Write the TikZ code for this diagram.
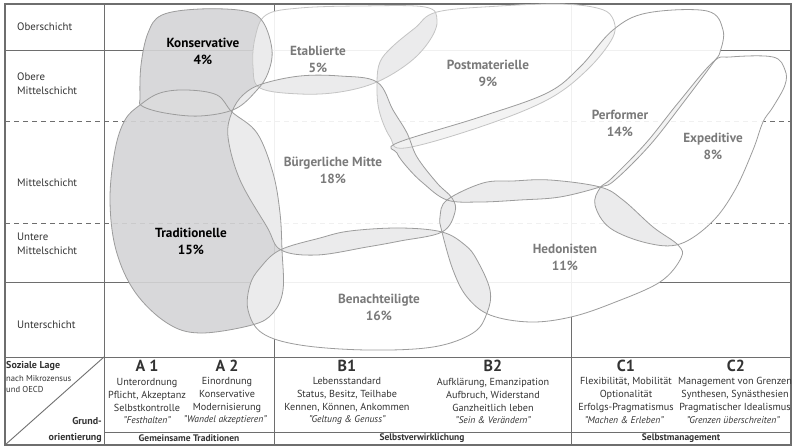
\documentclass[tikz,border=0pt]{standalone}
\usepackage{fontspec}
\setmainfont{PT Sans}
\definecolor{frame}{HTML}{6E6E6E}
\definecolor{txt}{HTML}{333333}
\definecolor{lbl}{HTML}{7A7A7A}
\definecolor{bline}{HTML}{9C9C9C}
\definecolor{bline2}{HTML}{C4C4C4}
\definecolor{dfill}{HTML}{D4D4D6}
\definecolor{ovl}{HTML}{EAEAEB}
\definecolor{ovlb}{HTML}{F2F2F2}
\definecolor{ovld}{HTML}{DCDCDD}
\def\Kp{plot[smooth cycle,tension=0.6] coordinates{(140,97) (141,65) (148,33) (162,15) (200,9) (245,11) (263,22) (272,50) (268,73) (257,90) (235,109) (200,116) (165,113) (142,106)}}
\def\Ep{plot[smooth cycle,tension=0.6] coordinates{(260,88) (253,67) (255,38) (266,15) (300,8) (360,6) (425,7) (437,20) (430,40) (410,62) (377,82) (340,92) (300,94)}}
\def\Pp{plot[smooth cycle,tension=0.6] coordinates{(437,12) (415,28) (392,47) (380,62) (377,82) (379,110) (390,137) (405,148) (480,127) (547,100) (587,70) (613,37) (612,17) (597,8) (560,4) (500,6)}}
\def\Pfp{plot[smooth cycle,tension=0.6] coordinates{(397,143) (480,117) (547,93) (580,67) (613,30) (647,13) (707,11) (723,30) (720,52) (713,63) (683,103) (650,145) (615,180) (600,187) (560,197) (520,200) (480,202) (447,200) (423,183) (407,167) (397,153)}}
\def\Xp{plot[smooth cycle,tension=0.6] coordinates{(713,62) (730,57) (773,57) (785,70) (785,85) (773,107) (763,122) (753,150) (735,190) (712,222) (680,244) (647,243) (610,228) (595,205) (600,188) (612,178) (646,143) (678,103)}}
\def\Hp{plot[smooth cycle,tension=0.6] coordinates{(447,200) (483,183) (513,181) (550,180) (600,187) (623,200) (653,227) (678,245) (681,258) (660,282) (613,303) (571,317) (530,322) (490,315) (467,297) (453,270) (442,232) (440,217)}}
\def\Bnp{plot[smooth cycle,tension=0.6] coordinates{(280,250) (320,238) (350,231) (400,228) (442,232) (465,245) (477,260) (490,290) (487,313) (473,333) (433,347) (367,350) (300,345) (262,333) (248,310) (250,285) (260,268)}}
\def\Bp{plot[smooth cycle,tension=0.6] coordinates{(232,112) (243,95) (262,84) (300,76) (340,76) (377,82) (393,110) (407,133) (417,157) (437,183) (452,198) (455,212) (442,232) (400,241) (367,247) (317,255) (281,250) (267,227) (240,180) (228,137)}}
\def\Tp{plot[smooth cycle,tension=0.6] coordinates{(140,105) (160,93) (187,90) (217,95) (232,112) (257,133) (273,173) (280,213) (282,250) (283,290) (273,313) (252,325) (200,333) (167,323) (135,292) (116,250) (110,200) (115,150) (125,120)}}
\newcommand\ovlap[3]{\begin{scope}\clip #1; \fill[#3,opacity=0.92] #2;\end{scope}}
\begin{document}
\begin{tikzpicture}[x=1pt,y=-1pt,
  gridline/.style={draw=frame,line width=0.9pt},
  dashline/.style={draw=frame,line width=0.8pt,dash pattern=on 5pt off 4pt},
  wblob/.style={fill=white,fill opacity=0.9},
  gblob/.style={fill=dfill,fill opacity=0.9},
  outl/.style={draw=bline,line width=0.8pt},
  outl2/.style={draw=bline2,line width=0.8pt},
  mil/.style={align=center,text=lbl,font=\bfseries\fontsize{13.2}{17}\selectfont,inner sep=0pt},
  mild/.style={mil,text=black},
  side/.style={anchor=west,align=left,text=txt,font=\fontsize{10.8}{14}\selectfont,inner sep=0pt},
  colhead/.style={text=txt,font=\bfseries\fontsize{16}{16}\selectfont,inner sep=0pt},
  colbody/.style={align=center,text=txt,font=\fontsize{10.2}{13}\selectfont,inner sep=0pt},
  colquote/.style={text=txt,font=\itshape\fontsize{9.6}{10}\selectfont,inner sep=0pt},
  grp/.style={text=txt,font=\bfseries\fontsize{9.5}{10}\selectfont,inner sep=0pt}
]
\useasboundingbox (0,0) rectangle (793,447);
\fill[white] (0,0) rectangle (793,447);
% grid
\draw[gridline] (5,50) -- (791,50);
\draw[gridline] (5,282) -- (791,282);
\draw[dashline] (5,121) -- (791,121);
\draw[dashline] (5,223) -- (791,223);
\draw[gridline] (274,4) -- (274,445);
\draw[gridline] (571,4) -- (571,445);
\draw[gridline] (104,4) -- (104,445);
\draw[gridline] (5,357) -- (791,357);
\draw[gridline] (104,432) -- (791,432);
\draw[gridline] (5,445) -- (104,357);
\draw[frame,line width=1.3pt] (5,4) rectangle (791,445);
% blob fills
\path[gblob] \Kp;
\path[gblob] \Tp;
\path[wblob] \Ep;
\path[wblob] \Pp;
\path[wblob] \Pfp;
\path[wblob] \Xp;
\path[wblob] \Bp;
\path[wblob] \Bnp;
\path[wblob] \Hp;
% overlaps
\ovlap{\Kp}{\Tp}{ovld}
\ovlap{\Kp}{\Ep}{ovl}
\ovlap{\Kp}{\Bp}{ovl}
\ovlap{\Ep}{\Bp}{ovl}
\ovlap{\Ep}{\Pp}{ovl}
\ovlap{\Tp}{\Bp}{ovl}
\ovlap{\Tp}{\Bnp}{ovl}
\ovlap{\Bp}{\Bnp}{ovl}
\ovlap{\Bp}{\Pp}{ovl}
\ovlap{\Bp}{\Pfp}{ovl}
\ovlap{\Bp}{\Hp}{ovl}
\ovlap{\Pp}{\Pfp}{ovlb}
\ovlap{\Pfp}{\Hp}{ovl}
\ovlap{\Pfp}{\Xp}{ovlb}
\ovlap{\Hp}{\Xp}{ovl}
\ovlap{\Hp}{\Bnp}{ovl}
% outlines
\draw[outl2] \Ep;
\draw[outl2] \Pp;
\draw[outl] \Kp;
\draw[outl] \Tp;
\draw[outl] \Bp;
\draw[outl] \Bnp;
\draw[outl] \Hp;
\draw[outl] \Pfp;
\draw[outl] \Xp;
% milieu labels
\node[mild] (kon) at (203,51) {Konservative\\4\%};
\node[mil] (eta) at (318,59) {Etablierte\\5\%};
\node[mil] (pos) at (488,73) {Postmaterielle\\9\%};
\node[mil] (per) at (620,123) {Performer\\14\%};
\node[mil] (exp) at (713,146) {Expeditive\\8\%};
\node[mil] (bue) at (333,170) {Bürgerliche Mitte\\18\%};
\node[mild] (tra) at (191,241) {Traditionelle\\15\%};
\node[mil] (ben) at (379,307) {Benachteiligte\\16\%};
\node[mil] (hed) at (565,257) {Hedonisten\\11\%};
% side labels
\node[side] (s1) at (17,27) {Oberschicht};
\node[side] (s2) at (17,84) {Obere\\Mittelschicht};
\node[side] (s3) at (17,183) {Mittelschicht};
\node[side] (s4) at (17,244) {Untere\\Mittelschicht};
\node[side] (s5) at (17,325) {Unterschicht};
% table left cell
\node[anchor=west,text=txt,font=\bfseries\fontsize{10}{10}\selectfont,inner sep=0pt] (sl) at (6,366) {Soziale Lage};
\node[anchor=west,align=left,text=txt,font=\fontsize{8.6}{10.5}\selectfont,inner sep=0pt] (nm) at (6,384) {nach Mikrozensus\\und OECD};
\node[anchor=east,text=txt,font=\bfseries\fontsize{10}{10}\selectfont,inner sep=0pt] (gr) at (102,421) {Grund-};
\node[anchor=east,text=txt,font=\bfseries\fontsize{10}{10}\selectfont,inner sep=0pt] (or) at (102,438) {orientierung};
% columns
\node[colhead] (a1) at (147,366) {A 1};
\node[colhead] (a2) at (227,366) {A 2};
\node[colhead] (b1) at (347,366) {B1};
\node[colhead] (b2) at (493,366) {B2};
\node[colhead] (c1) at (626,366) {C1};
\node[colhead] (c2) at (736,366) {C2};
\node[colbody] (a1b) at (147,395) {Unterordnung\\Pflicht, Akzeptanz\\Selbstkontrolle};
\node[colbody] (a2b) at (227,395) {Einordnung\\Konservative\\Modernisierung};
\node[colbody] (b1b) at (347,395) {Lebensstandard\\Status, Besitz, Teilhabe\\Kennen, Können, Ankommen};
\node[colbody] (b2b) at (493,395) {Aufklärung, Emanzipation\\Aufbruch, Widerstand\\Ganzheitlich leben};
\node[colbody] (c1b) at (626,395) {Flexibilität, Mobilität\\Optionalität\\Erfolgs-Pragmatismus};
\node[colbody] (c2b) at (735,395) {Management von Grenzen\\Synthesen, Synästhesien\\Pragmatischer Idealismus};
\node[colquote] (a1q) at (147,420) {"Festhalten"};
\node[colquote] (a2q) at (225,420) {"Wandel akzeptieren"};
\node[colquote] (b1q) at (347,420) {"Geltung \& Genuss"};
\node[colquote] (b2q) at (493,420) {"Sein \& Verändern"};
\node[colquote] (c1q) at (624,420) {"Machen \& Erleben"};
\node[colquote] (c2q) at (733,420) {"Grenzen überschreiten"};
\node[grp] (g1) at (189,438) {Gemeinsame Traditionen};
\node[grp] (g2) at (422,438) {Selbstverwirklichung};
\node[grp] (g3) at (681,438) {Selbstmanagement};
\end{tikzpicture}
\end{document}
